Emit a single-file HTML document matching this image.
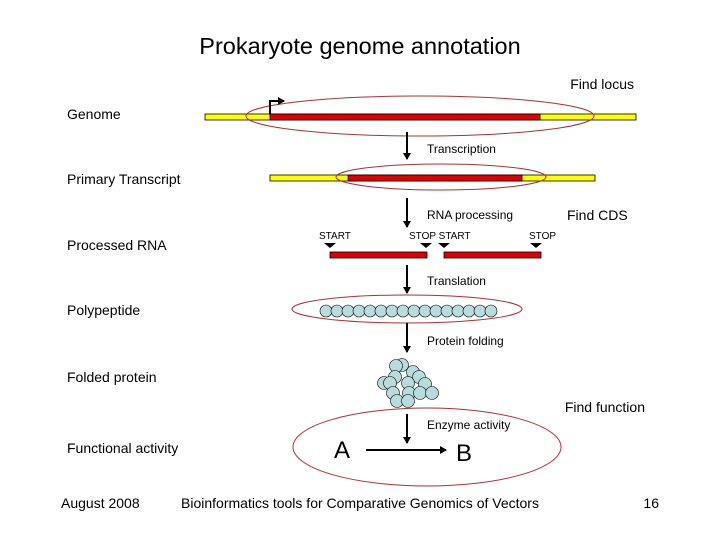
<!DOCTYPE html>
<html><head><meta charset="utf-8"><style>
html,body{margin:0;padding:0;background:#fff}
svg{display:block}
text{font-family:"Liberation Sans",sans-serif;fill:#000}
</style></head><body>
<svg width="720" height="540" viewBox="0 0 720 540" xmlns="http://www.w3.org/2000/svg">
<defs><marker id="ah" markerWidth="8" markerHeight="8" refX="6" refY="4" orient="auto" markerUnits="userSpaceOnUse"><path d="M0,0 L7,4 L0,8 z" fill="#000"/></marker></defs>
<text x="360" y="54" font-size="23.5" text-anchor="middle">Prokaryote genome annotation</text>
<text x="634" y="89" font-size="14" text-anchor="end">Find locus</text>
<text x="67" y="119" font-size="14">Genome</text>
<rect x="205" y="114" width="431" height="6" fill="#ffff00" stroke="#000" stroke-width="0.8"/>
<rect x="270" y="114" width="270" height="6" fill="#e00000" stroke="#000" stroke-width="0.8"/>
<ellipse cx="420" cy="116" rx="174" ry="20" fill="none" stroke="#b03030" stroke-width="1"/>
<path d="M270,114 V101 H284" fill="none" stroke="#000" stroke-width="2" marker-end="url(#ah)"/>
<line x1="407" y1="132" x2="407" y2="159" stroke="#000" stroke-width="2" marker-end="url(#ah)"/>
<text x="427" y="153" font-size="12">Transcription</text>
<text x="67" y="184" font-size="14">Primary Transcript</text>
<rect x="270" y="175" width="325" height="6" fill="#ffff00" stroke="#000" stroke-width="0.8"/>
<rect x="348" y="175" width="174" height="6" fill="#e00000" stroke="#000" stroke-width="0.8"/>
<ellipse cx="441" cy="177" rx="105" ry="13" fill="none" stroke="#b03030" stroke-width="1"/>
<line x1="407" y1="198" x2="407" y2="227" stroke="#000" stroke-width="2" marker-end="url(#ah)"/>
<text x="427" y="219" font-size="12">RNA processing</text>
<text x="567" y="220" font-size="14">Find CDS</text>
<text x="67" y="250" font-size="14">Processed RNA</text>
<text x="319" y="239" font-size="10">START</text>
<text x="409" y="239" font-size="10">STOP START</text>
<text x="529" y="239" font-size="10">STOP</text>
<g fill="#000">
<path d="M324,243 h12 l-6,5 z"/><path d="M420,243 h12 l-6,5 z"/><path d="M438,243 h12 l-6,5 z"/><path d="M530,243 h12 l-6,5 z"/>
</g>
<rect x="330" y="252" width="97" height="6" fill="#e00000" stroke="#000" stroke-width="0.8"/>
<rect x="444" y="252" width="97" height="6" fill="#e00000" stroke="#000" stroke-width="0.8"/>
<line x1="407" y1="265" x2="407" y2="293" stroke="#000" stroke-width="2" marker-end="url(#ah)"/>
<text x="427" y="285" font-size="12">Translation</text>
<text x="67" y="315" font-size="14">Polypeptide</text>
<ellipse cx="407" cy="309" rx="115" ry="14" fill="none" stroke="#b03030" stroke-width="1"/>
<g fill="#b8dcdc" stroke="#000" stroke-width="0.6">
<circle cx="326" cy="311" r="6"/><circle cx="337" cy="311" r="6"/><circle cx="348" cy="311" r="6"/><circle cx="359" cy="311" r="6"/><circle cx="370" cy="311" r="6"/><circle cx="381" cy="311" r="6"/><circle cx="392" cy="311" r="6"/><circle cx="403" cy="311" r="6"/><circle cx="414" cy="311" r="6"/><circle cx="425" cy="311" r="6"/><circle cx="436" cy="311" r="6"/><circle cx="447" cy="311" r="6"/><circle cx="458" cy="311" r="6"/><circle cx="469" cy="311" r="6"/><circle cx="480" cy="311" r="6"/><circle cx="491" cy="311" r="6"/>
</g>
<line x1="407" y1="323" x2="407" y2="352" stroke="#000" stroke-width="2" marker-end="url(#ah)"/>
<text x="427" y="345" font-size="12">Protein folding</text>
<text x="67" y="382" font-size="14">Folded protein</text>
<g fill="#b8dcdc" stroke="#000" stroke-width="0.6">
<circle cx="402" cy="365" r="6.5"/><circle cx="396" cy="366" r="6.5"/><circle cx="413" cy="372" r="6.5"/><circle cx="419" cy="377" r="6.5"/><circle cx="395" cy="377" r="6.5"/><circle cx="384" cy="383" r="6.5"/><circle cx="390" cy="383" r="6.5"/><circle cx="425" cy="384" r="6.5"/><circle cx="408" cy="383" r="6.5"/><circle cx="409" cy="393" r="6.5"/><circle cx="393" cy="393" r="6.5"/><circle cx="420" cy="393" r="6.5"/><circle cx="432" cy="393" r="6.5"/><circle cx="397" cy="401" r="6.5"/><circle cx="408" cy="401" r="6.5"/>
</g>
<text x="645" y="412" font-size="14" text-anchor="end">Find function</text>
<ellipse cx="427" cy="447" rx="134" ry="39" fill="none" stroke="#b03030" stroke-width="1"/>
<line x1="407" y1="414" x2="407" y2="443" stroke="#000" stroke-width="2" marker-end="url(#ah)"/>
<text x="427" y="429" font-size="12">Enzyme activity</text>
<text x="67" y="453" font-size="14">Functional activity</text>
<text x="334" y="458" font-size="24">A</text>
<text x="456" y="461" font-size="24">B</text>
<line x1="366" y1="450" x2="446" y2="450" stroke="#000" stroke-width="2" marker-end="url(#ah)"/>
<text x="61" y="508" font-size="14">August 2008</text>
<text x="360" y="508" font-size="14" text-anchor="middle">Bioinformatics tools for Comparative Genomics of Vectors</text>
<text x="659" y="508" font-size="14" text-anchor="end">16</text>
</svg>
</body></html>
